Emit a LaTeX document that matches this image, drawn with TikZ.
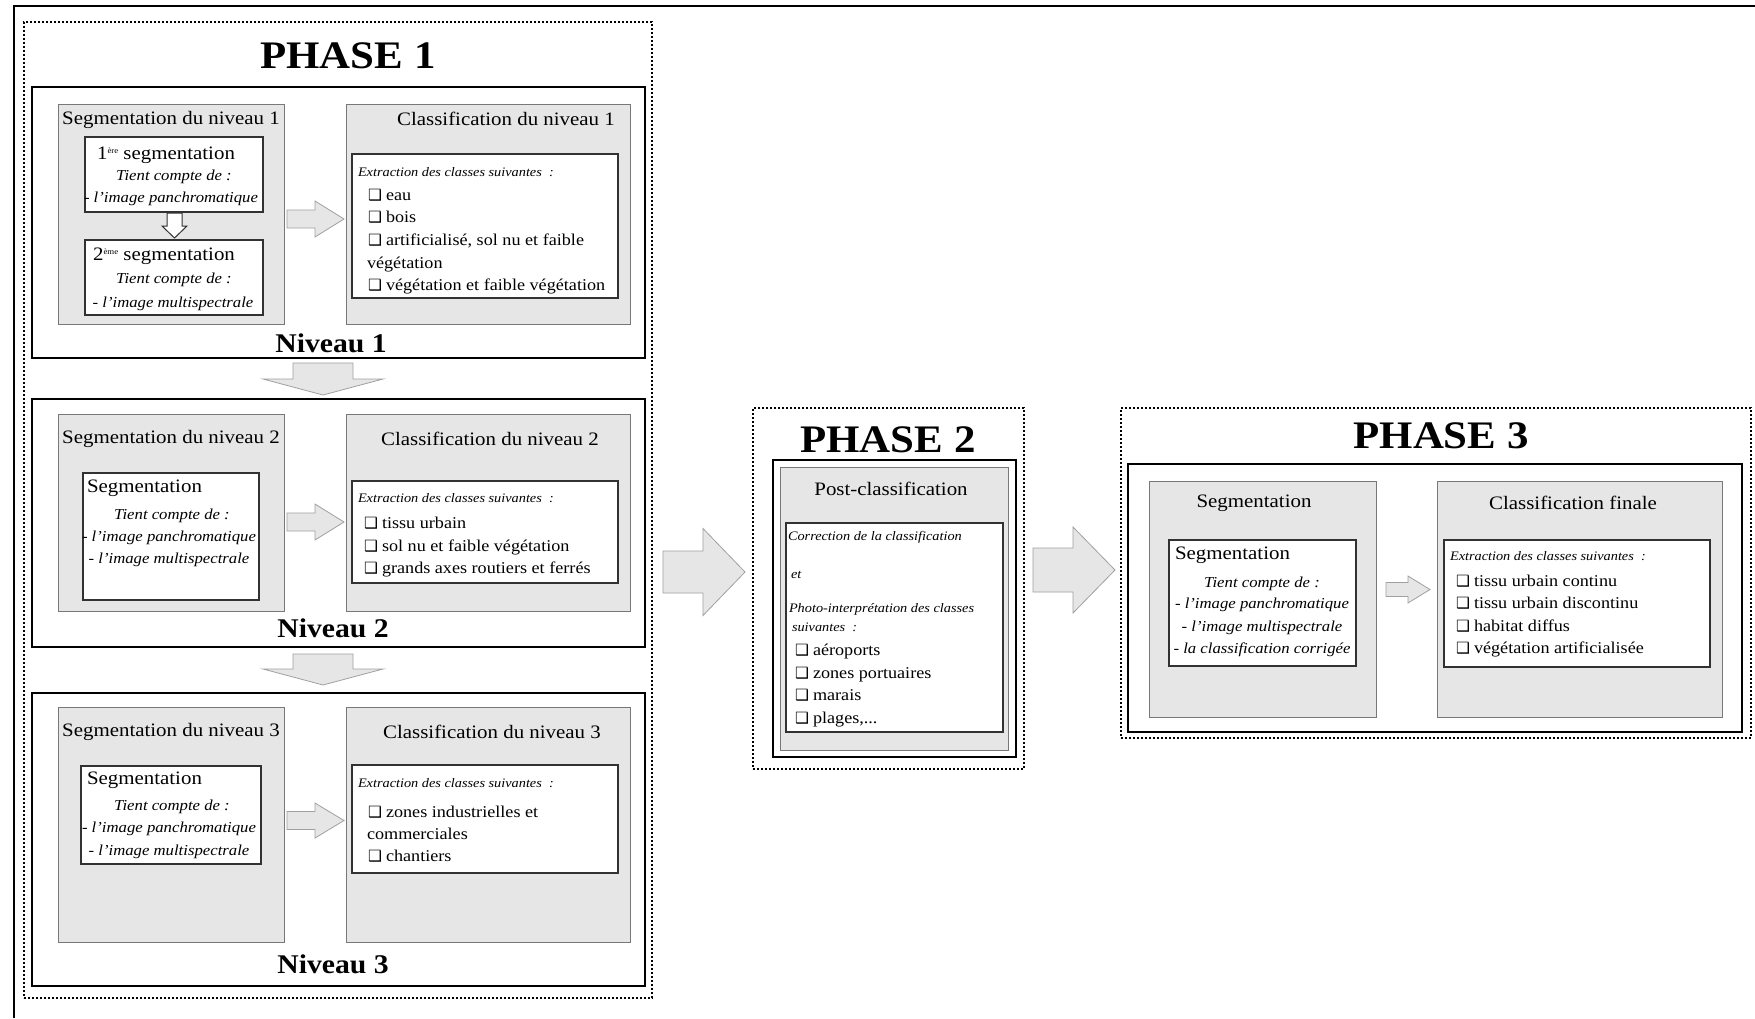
\documentclass[tikz,border=0pt]{standalone}
\usepackage{fontspec}
\setmainfont{Liberation Serif}[FakeStretch=1.1]
\newfontfamily\dejavu{DejaVu Sans}
\definecolor{boxgrey}{RGB}{230,230,230}
\definecolor{boxedge}{RGB}{120,120,120}
\definecolor{arrfill}{RGB}{230,230,230}
\definecolor{arredge}{RGB}{160,160,160}
\definecolor{inedge}{RGB}{50,50,50}
\newcommand\fTitle{\fontsize{39}{42}\selectfont\bfseries}
\newcommand\fNiv{\fontsize{27}{30}\selectfont\bfseries}
\newcommand\fHead{\fontsize{19}{22}\selectfont}
\newcommand\fItem{\fontsize{16.5}{22}\selectfont}
\newcommand\fSmall{\fontsize{13}{16}\selectfont\itshape}
\newcommand\fTient{\fontsize{15.2}{22}\selectfont\itshape}
\newcommand\cbx{\makebox[18pt][l]{\dejavu\fontsize{15.5}{15}\selectfont ❑}}
\newcommand\mysup[1]{\raisebox{6pt}{\fontsize{8}{8}\selectfont #1}}
\newcommand\bx[6]{\node[#1, anchor=north west, inner sep=0pt, outer sep=0pt,
  minimum width={#5pt-#3pt}, minimum height={#6pt-#4pt}] (#2) at (#3,#4) {};}
\newcommand\rarr[7]{% style, x0, xhead, xtip, yc, shaft half, head half
  \draw[#1] (#2,{#5-#6}) -- (#3,{#5-#6}) -- (#3,{#5-#7}) -- (#4,#5)
    -- (#3,{#5+#7}) -- (#3,{#5+#6}) -- (#2,{#5+#6}) -- cycle;}
\newcommand\darr[7]{% style, y0, yhead, ytip, xc, shaft half, head half
  \draw[#1] ({#5-#6},#2) -- ({#5-#6},#3) -- ({#5-#7},#3) -- (#5,#4)
    -- ({#5+#7},#3) -- ({#5+#6},#3) -- ({#5+#6},#2) -- cycle;}
\begin{document}
\begin{tikzpicture}[x=1pt,y=-1pt,
  greybox/.style={draw=boxedge, fill=boxgrey, line width=1pt},
  whitebox/.style={draw=inedge, fill=white, line width=1.2pt},
  nivbox/.style={draw=black, line width=2.6pt},
  phasebox/.style={draw=black, line width=2pt, dash pattern=on 2pt off 2pt},
  barrow/.style={draw=arredge, fill=arrfill, line width=0.8pt, line join=miter},
  warrow/.style={draw=inedge, fill=white, line width=1pt},
  txt/.style={inner sep=0pt, outer sep=0pt},
  ttl/.style={txt, anchor=base, font=\fTitle},
  niv/.style={txt, anchor=base, font=\fNiv},
  head/.style={txt, anchor=base, font=\fHead},
  headl/.style={txt, anchor=base west, font=\fHead},
  tient/.style={txt, anchor=base, font=\fTient},
  small/.style={txt, anchor=base west, font=\fSmall},
  item/.style={txt, anchor=base west, font=\fItem}]
\useasboundingbox (0,0) rectangle (1755,1018);
\fill[white] (0,0) rectangle (1755,1018);
% outer frame
\draw[line width=2.6pt] (14,1018) -- (14,6) -- (1755,6);

% ===== PHASE 1 =====
\bx{phasebox}{ph1}{24}{22}{652}{998}
\node[ttl] (t1) at (348,68) {PHASE 1};

% Niveau 1
\bx{nivbox}{n1}{32}{87}{645}{358}
\bx{greybox}{s1}{58}{104}{284}{324}
\bx{whitebox}{s1a}{85}{137}{263}{212}
\bx{whitebox}{s1b}{85}{240}{263}{315}
\bx{greybox}{c1}{346}{104}{630}{324}
\bx{whitebox}{c1a}{352}{154}{618}{298}
\node[head] (s1t) at (171,124) {Segmentation du niveau 1};
\node[head] (s1a1) at (166,159) {1\mysup{ère} segmentation};
\node[tient] (s1a2) at (174,180) {Tient compte de :};
\node[tient] (s1a3) at (171,202) {- l’image panchromatique};
\darr{warrow}{213}{226}{238}{174.5}{7.5}{12.5}
\node[head] (s1b1) at (164,260) {2\mysup{ème} segmentation};
\node[tient] (s1b2) at (174,283) {Tient compte de :};
\node[tient] (s1b3) at (173,307) {- l’image multispectrale};
\node[head] (c1t) at (506,125) {Classification du niveau 1};
\node[small] (c1x) at (358,176) {Extraction des classes suivantes~~:};
\node[item] (c1i1) at (368,200) {\cbx eau};
\node[item] (c1i2) at (368,222) {\cbx bois};
\node[item] (c1i3) at (368,245) {\cbx artificialisé, sol nu et faible};
\node[item] (c1i4) at (367,268) {végétation};
\node[item] (c1i5) at (368,290) {\cbx végétation et faible végétation};
\rarr{barrow}{287}{315}{344}{219}{9}{18}
\node[niv] (n1t) at (331,352) {Niveau 1};

\darr{barrow}{363}{379}{395}{323}{30}{60}

% Niveau 2
\bx{nivbox}{n2}{32}{399}{645}{647}
\bx{greybox}{s2}{58}{414}{284}{611}
\bx{whitebox}{s2a}{83}{473}{259}{600}
\bx{greybox}{c2}{346}{414}{630}{611}
\bx{whitebox}{c2a}{352}{481}{618}{583}
\node[head] (s2t) at (171,443) {Segmentation du niveau 2};
\node[headl] (s2a1) at (87,492) {Segmentation};
\node[tient] (s2a2) at (172,519) {Tient compte de :};
\node[tient] (s2a3) at (169,541) {- l’image panchromatique};
\node[tient] (s2a4) at (169,563) {- l’image multispectrale};
\node[head] (c2t) at (490,445) {Classification du niveau 2};
\node[small] (c2x) at (358,502) {Extraction des classes suivantes~~:};
\node[item] (c2i1) at (364,528) {\cbx tissu urbain};
\node[item] (c2i2) at (364,551) {\cbx sol nu et faible végétation};
\node[item] (c2i3) at (364,573) {\cbx grands axes routiers et ferrés};
\rarr{barrow}{287}{315}{344}{522}{9}{18}
\node[niv] (n2t) at (333,637) {Niveau 2};

\darr{barrow}{654}{669}{685}{323}{30}{60}

% Niveau 3
\bx{nivbox}{n3}{32}{693}{645}{986}
\bx{greybox}{s3}{58}{707}{284}{942}
\bx{whitebox}{s3a}{81}{766}{261}{864}
\bx{greybox}{c3}{346}{707}{630}{942}
\bx{whitebox}{c3a}{352}{765}{618}{873}
\node[head] (s3t) at (171,736) {Segmentation du niveau 3};
\node[headl] (s3a1) at (87,784) {Segmentation};
\node[tient] (s3a2) at (172,810) {Tient compte de :};
\node[tient] (s3a3) at (169,832) {- l’image panchromatique};
\node[tient] (s3a4) at (169,855) {- l’image multispectrale};
\node[head] (c3t) at (492,738) {Classification du niveau 3};
\node[small] (c3x) at (358,787) {Extraction des classes suivantes~~:};
\node[item] (c3i1) at (368,817) {\cbx zones industrielles et};
\node[item] (c3i2) at (367,839) {commerciales};
\node[item] (c3i3) at (368,861) {\cbx chantiers};
\rarr{barrow}{287}{315}{344}{820.5}{9}{17.5}
\node[niv] (n3t) at (333,973) {Niveau 3};

% arrow phase 1 -> phase 2
\rarr{barrow}{663}{703}{745}{572}{21}{43.5}

% ===== PHASE 2 =====
\bx{phasebox}{ph2}{753}{408}{1024}{769}
\node[ttl] (t2) at (888,452) {PHASE 2};
\bx{nivbox}{p2}{773}{460}{1016}{757}
\bx{greybox}{pc}{780}{467}{1008}{750}
\bx{whitebox}{pca}{786}{523}{1003}{732}
\node[head] (pct) at (891,495) {Post-classification};
\node[small] (pc1) at (788,540) {Correction de la classification};
\node[small] (pc2) at (791,578) {et};
\node[small] (pc3) at (789,612) {Photo-interprétation des classes};
\node[small] (pc4) at (792,631) {suivantes~~:};
\node[item] (pci1) at (795,655) {\cbx aéroports};
\node[item] (pci2) at (795,678) {\cbx zones portuaires};
\node[item] (pci3) at (795,700) {\cbx marais};
\node[item] (pci4) at (795,723) {\cbx plages,...};

% arrow phase 2 -> phase 3
\rarr{barrow}{1033}{1073}{1115}{570}{22}{43}

% ===== PHASE 3 =====
\bx{phasebox}{ph3}{1121}{408}{1751}{738}
\node[ttl] (t3) at (1441,448) {PHASE 3};
\bx{nivbox}{p3}{1128}{464}{1742}{732}
\bx{greybox}{s4}{1149}{481}{1376}{717}
\bx{whitebox}{s4a}{1169}{540}{1356}{666}
\bx{greybox}{c4}{1437}{481}{1722}{717}
\bx{whitebox}{c4a}{1444}{540}{1710}{667}
\node[head] (s4t) at (1254,507) {Segmentation};
\node[headl] (s4a1) at (1175,559) {Segmentation};
\node[tient] (s4a2) at (1262,587) {Tient compte de :};
\node[tient] (s4a3) at (1262,608) {- l’image panchromatique};
\node[tient] (s4a4) at (1262,631) {- l’image multispectrale};
\node[tient] (s4a5) at (1262,653) {- la classification corrigée};
\node[head] (c4t) at (1573,509) {Classification finale};
\node[small] (c4x) at (1450,560) {Extraction des classes suivantes~~:};
\node[item] (c4i1) at (1456,586) {\cbx tissu urbain continu};
\node[item] (c4i2) at (1456,608) {\cbx tissu urbain discontinu};
\node[item] (c4i3) at (1456,631) {\cbx habitat diffus};
\node[item] (c4i4) at (1456,653) {\cbx végétation artificialisée};
\rarr{barrow}{1386}{1408}{1430}{589.5}{7}{13.5}
\end{tikzpicture}
\end{document}
